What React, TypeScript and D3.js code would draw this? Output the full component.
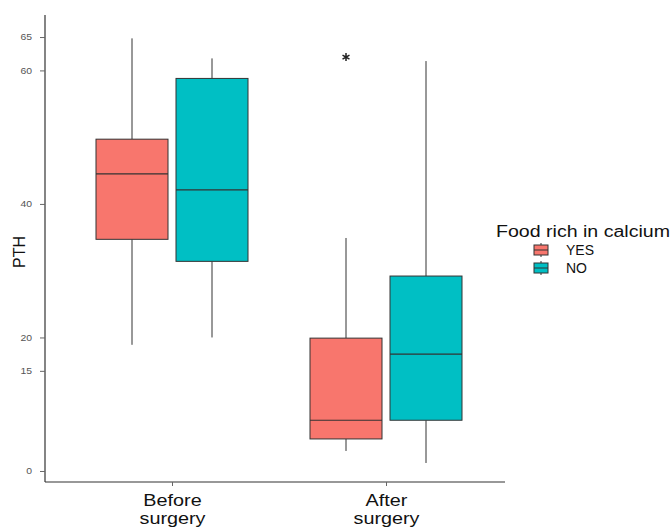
import React, { useEffect, useRef } from 'react';
import * as d3 from 'd3';

const surgery = ['Before surgery', 'After surgery'];
const calcium = ['YES', 'NO'];
const colors = ['#F8766D', '#00BFC4'];

// five-number summaries, [group][series]
const lowWhisker = [[18.9, 20.0], [3.0, 1.2]];
const q1 = [[34.7, 31.4], [4.8, 7.6]];
const median = [[44.5, 42.1], [7.6, 17.5]];
const q3 = [[49.7, 58.8], [19.9, 29.2]];
const highWhisker = [[64.8, 61.8], [34.9, 61.4]];
const outliers = [{ group: 1, series: 0, value: 62.0 }];

const yTicks = [0, 15, 20, 40, 60, 65];

function BoxChart() {
  const ref = useRef<SVGSVGElement>(null);

  useEffect(() => {
    const svg = d3.select(ref.current);
    svg.selectAll('*').remove();

    const width = 671;
    const height = 527;
    const left = 45;
    const right = 505;
    const top = 15;
    const bottom = 482;
    const font = 'Liberation Sans, Arial, sans-serif';

    svg
      .attr('width', width)
      .attr('height', height)
      .style('font-family', font)
      .style('position', 'absolute')
      .style('left', '0px')
      .style('top', '0px');

    const y = d3.scaleLinear().domain([-1.65, 68.3]).range([bottom, top]);
    const x = d3.scalePoint().domain(surgery).range([172, 386]);
    const inner = d3.scaleBand().domain(calcium).range([-80, 80]).paddingInner(0.1).paddingOuter(0.05);

    const yAxis = svg
      .append('g')
      .attr('transform', `translate(${left},0)`)
      .call(d3.axisLeft(y).tickValues(yTicks).tickSize(5).tickPadding(8));
    yAxis.select('.domain').attr('stroke', '#333').attr('stroke-width', 1.2).attr('d', `M0,${top}V${bottom}`);
    yAxis.selectAll('.tick line').attr('stroke', '#666');
    yAxis
      .selectAll('.tick text')
      .attr('fill', '#555')
      .attr('font-size', 8.5)
      .attr('font-family', font)
      .attr('textLength', (d: any) => String(d).length * 5.8)
      .attr('lengthAdjust', 'spacingAndGlyphs');

    const xAxis = svg
      .append('g')
      .attr('transform', `translate(0,${bottom})`)
      .call(d3.axisBottom(x).tickSize(4).tickFormat(() => ''));
    xAxis.select('.domain').attr('stroke', '#333').attr('stroke-width', 1.2).attr('d', `M${left},0H${right}`);
    xAxis.selectAll('.tick line').attr('stroke', '#666');
    xAxis
      .selectAll('.tick')
      .append('text')
      .attr('fill', '#111')
      .attr('font-size', 16.5)
      .attr('text-anchor', 'middle')
      .attr('transform', 'scale(1.2,1)')
      .selectAll('tspan')
      .data((d: any) => d.split(' '))
      .join('tspan')
      .attr('x', 0)
      .attr('y', (_, i) => 24 + i * 18)
      .text((d: any) => d);

    svg
      .append('text')
      .attr('transform', 'translate(25,252) rotate(-90)')
      .attr('text-anchor', 'middle')
      .attr('font-size', 16)
      .attr('fill', '#111')
      .text('PTH');

    const boxes = surgery.flatMap((g, gi) =>
      calcium.map((s, si) => ({
        g, s, gi, si,
        lo: lowWhisker[gi][si], q1: q1[gi][si], med: median[gi][si], q3: q3[gi][si], hi: highWhisker[gi][si],
      }))
    );

    const bw = inner.bandwidth();
    const box = svg
      .append('g')
      .selectAll('g')
      .data(boxes)
      .join('g')
      .attr('transform', (d) => `translate(${(x(d.g) as number) + (inner(d.s) as number)},0)`);

    box.append('line').attr('x1', bw / 2).attr('x2', bw / 2).attr('y1', (d) => y(d.hi)).attr('y2', (d) => y(d.q3)).attr('stroke', '#333');
    box.append('line').attr('x1', bw / 2).attr('x2', bw / 2).attr('y1', (d) => y(d.q1)).attr('y2', (d) => y(d.lo)).attr('stroke', '#333');
    box
      .append('rect')
      .attr('y', (d) => y(d.q3))
      .attr('width', bw)
      .attr('height', (d) => y(d.q1) - y(d.q3))
      .attr('fill', (d) => colors[d.si])
      .attr('stroke', '#333');
    box
      .append('line')
      .attr('x1', 0)
      .attr('x2', bw)
      .attr('y1', (d) => y(d.med))
      .attr('y2', (d) => y(d.med))
      .attr('stroke', '#333')
      .attr('stroke-width', 1.2);

    svg
      .append('g')
      .selectAll('path')
      .data(outliers)
      .join('path')
      .attr('transform', (d) => `translate(${(x(surgery[d.group]) as number) + (inner(calcium[d.series]) as number) + bw / 2},${y(d.value)})`)
      .attr('d', d3.symbol(d3.symbolAsterisk, 45)())
      .attr('fill', 'none')
      .attr('stroke', '#222')
      .attr('stroke-width', 1.5);

    // legend
    const legend = svg.append('g').attr('transform', 'translate(496,0)');
    legend
      .append('text')
      .attr('x', 0)
      .attr('y', 237)
      .attr('font-size', 16)
      .attr('fill', '#111')
      .attr('textLength', 174)
      .attr('lengthAdjust', 'spacingAndGlyphs')
      .text('Food rich in calcium');
    const item = legend
      .selectAll('g.item')
      .data(calcium)
      .join('g')
      .attr('class', 'item')
      .attr('transform', (_, i) => `translate(38,${250 + i * 18})`);
    item.append('line').attr('x1', 7).attr('x2', 7).attr('y1', -7).attr('y2', 7).attr('stroke', '#333');
    item.append('rect').attr('x', 0).attr('y', -5).attr('width', 14).attr('height', 10).attr('fill', (_, i) => colors[i]).attr('stroke', '#333');
    item.append('line').attr('x1', 0).attr('x2', 14).attr('y1', 0).attr('y2', 0).attr('stroke', '#333');
    item
      .append('text')
      .attr('x', 32)
      .attr('y', 5)
      .attr('font-size', 14)
      .attr('fill', '#111')
      .text((d) => d);
  }, []);

  return <svg ref={ref}></svg>;
}

export default function App() {
  return <BoxChart />;
}
